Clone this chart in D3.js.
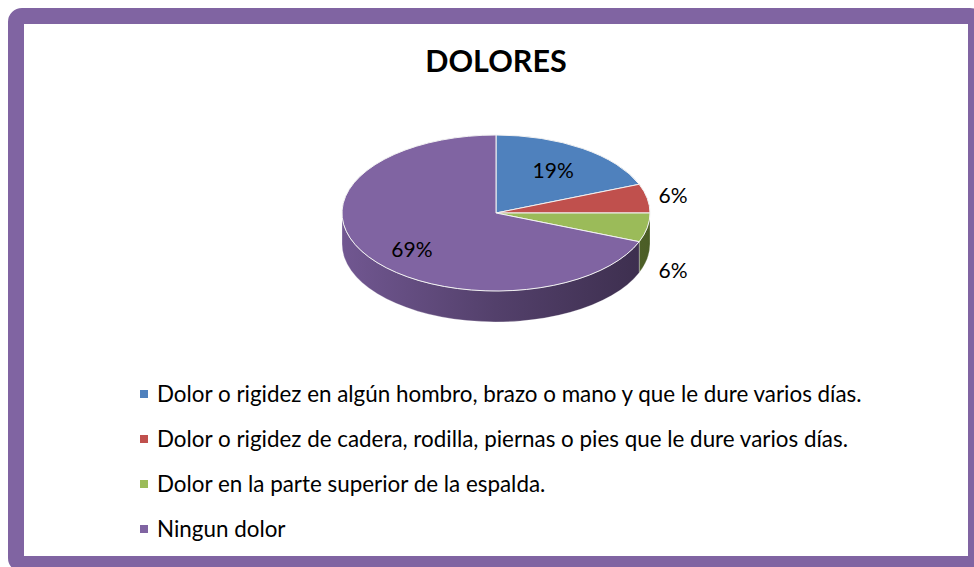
<!DOCTYPE html>
<html lang="es">
<head>
<meta charset="UTF-8">
<title>Dolores</title>
<style>
  body { margin: 0; background: #fff; }
  svg { display: block; font-family: Lato, "Open Sans", sans-serif; }
</style>
</head>
<body>
<div id="grafico"></div>
<script src="https://d3js.org/d3.v7.min.js"></script>
<script>

// datos
const categorias = [
  'Dolor o rigidez en algún hombro, brazo o mano y que le dure varios días.',
  'Dolor o rigidez de cadera, rodilla, piernas o pies que le dure varios días.',
  'Dolor en la parte superior de la espalda.',
  'Ningun dolor'
];
const porcentajes = [19, 6, 6, 69];
const colores = ['#4f81bd', '#c0504d', '#9bbb59', '#8064a2'];

const W = 974, H = 567;

const svg = d3.select('#grafico')
  .append('svg')
  .attr('width', W)
  .attr('height', H);

// marco morado
svg.append('rect')
  .attr('x', 16).attr('y', 16)
  .attr('width', 960).attr('height', 548)
  .attr('rx', 6)
  .attr('fill', '#fff')
  .attr('stroke', '#8064a2')
  .attr('stroke-width', 16);

svg.append('text')
  .attr('x', 496).attr('y', 72)
  .attr('text-anchor', 'middle')
  .attr('font-size', 30.5)
  .attr('font-weight', 'bold')
  .attr('fill', '#000')
  .text('DOLORES');

// pastel 3D
const cx = 496, cy = 213, rx = 154, ry = 78, prof = 31;

const pie = d3.pie().sort(null).value(d => d);
const arcos = pie(porcentajes);

const px = a => cx + rx * Math.sin(a);
const py = a => cy - ry * Math.cos(a);

const defs = svg.append('defs');
function gradiente(id, c) {
  const base = d3.hsl(c);
  const g = defs.append('linearGradient')
    .attr('id', id)
    .attr('gradientUnits', 'userSpaceOnUse')
    .attr('x1', cx - rx).attr('x2', cx + rx)
    .attr('y1', 0).attr('y2', 0);
  g.append('stop').attr('offset', 0).attr('stop-color', base.darker(0.35));
  g.append('stop').attr('offset', 0.5).attr('stop-color', base.darker(1.2));
  g.append('stop').attr('offset', 1).attr('stop-color', base.darker(2.1));
}
colores.forEach((c, i) => gradiente('lado' + i, c));

// paredes laterales (solo la mitad de delante)
arcos.forEach((d, i) => {
  const a0 = Math.max(d.startAngle, Math.PI / 2);
  const a1 = Math.min(d.endAngle, Math.PI * 1.5);
  if (a1 <= a0) return;
  const grande = (a1 - a0) > Math.PI ? 1 : 0;
  const path = `M${px(a0)},${py(a0)}` +
    `A${rx},${ry} 0 ${grande} 1 ${px(a1)},${py(a1)}` +
    `L${px(a1)},${py(a1) + prof}` +
    `A${rx},${ry} 0 ${grande} 0 ${px(a0)},${py(a0) + prof}Z`;
  svg.append('path')
    .attr('d', path)
    .attr('fill', `url(#lado${i})`)
    .attr('stroke', 'rgba(255,255,255,0.35)')
    .attr('stroke-width', 0.8);
});

// caras superiores
svg.selectAll('path.tapa')
  .data(arcos)
  .join('path')
  .attr('class', 'tapa')
  .attr('d', d => {
    const grande = (d.endAngle - d.startAngle) > Math.PI ? 1 : 0;
    return `M${cx},${cy}L${px(d.startAngle)},${py(d.startAngle)}` +
      `A${rx},${ry} 0 ${grande} 1 ${px(d.endAngle)},${py(d.endAngle)}Z`;
  })
  .attr('fill', (d, i) => colores[i])
  .attr('stroke', '#f2f2f2')
  .attr('stroke-width', 1);

// etiquetas
svg.selectAll('text.etq')
  .data(arcos)
  .join('text')
  .attr('class', 'etq')
  .attr('text-anchor', 'middle')
  .attr('dy', '0.35em')
  .attr('font-size', 21)
  .attr('fill', '#000')
  .each(function(d) {
    const m = (d.startAngle + d.endAngle) / 2;
    const fuera = d.data < 10;
    const f = fuera ? 1.17 : 0.66;
    let x = cx + f * rx * Math.sin(m);
    let y = cy - f * ry * Math.cos(m);
    if (fuera && Math.cos(m) < 0) y += prof * 1.3;
    if (!fuera && Math.cos(m) < 0) y += 8;
    d3.select(this).attr('x', x).attr('y', y);
  })
  .text(d => d.data + '%');

// leyenda
const filaY = d3.scalePoint()
  .domain(categorias)
  .range([394, 529]);

const ley = svg.selectAll('g.ley')
  .data(categorias)
  .join('g')
  .attr('class', 'ley')
  .attr('transform', d => `translate(140, ${filaY(d)})`);

ley.append('rect')
  .attr('x', 0).attr('y', -4)
  .attr('width', 8).attr('height', 8)
  .attr('fill', (d, i) => colores[i]);

ley.append('text')
  .attr('x', 17)
  .attr('dy', '0.35em')
  .attr('font-size', 22.4)
  .attr('fill', '#000')
  .text(d => d);

</script>
</body>
</html>
